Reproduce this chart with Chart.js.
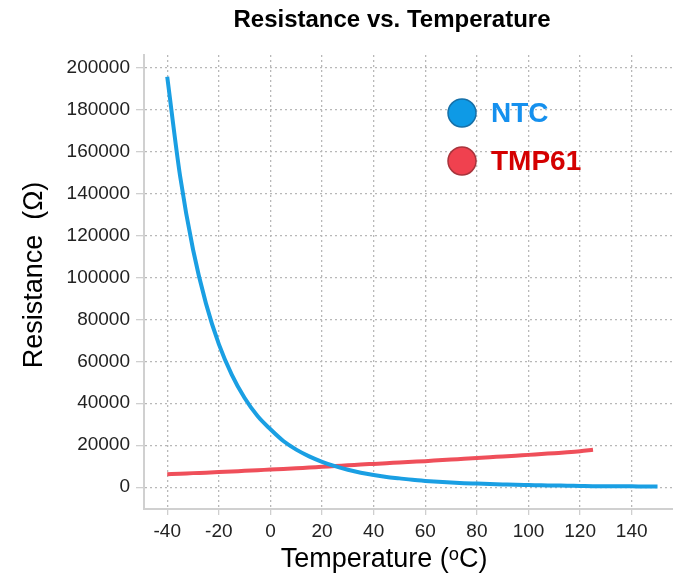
<!DOCTYPE html>
<html lang="en">

<head>
	<meta charset="UTF-8">
	<script src="https://cdn.jsdelivr.net/npm/chart.js@4.4.1/dist/chart.umd.min.js"></script>
	<title>Resistance vs. Temperature</title>
	<style>
		body { margin: 0; background: #fff; }
	</style>
</head>

<body>
	<canvas id="myChart" width="673" height="577"></canvas>
	<script>
		// data (ohms), every 5 degrees C
		let ntcTemps = [-40, -35, -30, -25, -20, -15, -10, -5, 0, 5, 10, 15, 20, 25, 30, 35, 40, 45, 50, 55,
			60, 65, 70, 75, 80, 85, 90, 95, 100, 105, 110, 115, 120, 125, 130, 135, 140, 145, 150];
		let ntcOhms = [195600, 148200, 113300, 87600, 68200, 53700, 42500, 33900, 27600, 22000, 17900, 14700,
			12100, 10000, 8300, 6900, 5800, 4900, 4200, 3500, 3000, 2600, 2200, 1900, 1700, 1500, 1300, 1100,
			1000, 900, 800, 700, 600, 500, 500, 400, 400, 300, 300];
		let tmpTemps = [-40, -35, -30, -25, -20, -15, -10, -5, 0, 5, 10, 15, 20, 25, 30, 35, 40, 45, 50, 55,
			60, 65, 70, 75, 80, 85, 90, 95, 100, 105, 110, 115, 120, 125];
		let tmpOhms = [6200, 6400, 6700, 6900, 7200, 7500, 7800, 8100, 8400, 8700, 9000, 9400, 9700, 10100,
			10400, 10800, 11100, 11400, 11800, 12100, 12400, 12800, 13200, 13500, 13900, 14300, 14600, 15000,
			15400, 15800, 16200, 16600, 17100, 17800];
		let seriesNames = ["NTC", "TMP61"];
		let xTickValues = [-40, -20, 0, 20, 40, 60, 80, 100, 120, 140];
		let yTickValues = [0, 20000, 40000, 60000, 80000, 100000, 120000, 140000, 160000, 180000, 200000];

		let lineColors = ["#1a9fe3", "#ef4f5a"];
		let dotColors = ["#0e9ae6", "#f0414f"];
		let dotEdges = ["#1670a8", "#a8343c"];
		let textColors = ["#1590ee", "#d40000"];
		let font = "Arial, 'Liberation Sans', sans-serif";

		let toPoints = (xs, ys) => xs.map((x, i) => ({ x: x, y: ys[i] }));

		let decor = {
			id: "decor",
			afterDraw: chart => {
				let ctx = chart.ctx;
				let area = chart.chartArea;
				ctx.save();
				ctx.fillStyle = "#000";
				ctx.textAlign = "center";
				ctx.textBaseline = "alphabetic";
				ctx.font = "bold 24px " + font;
				ctx.fillText("Resistance vs. Temperature", 392, 27);

				ctx.font = "27px " + font;
				ctx.fillText("Temperature (\u1D52C)", 384, 567);

				ctx.save();
				ctx.translate(42, 275);
				ctx.rotate(-Math.PI / 2);
				ctx.fillText("Resistance  (\u03A9)", 0, 0);
				ctx.restore();

				// legend inside the plot
				ctx.textAlign = "left";
				ctx.textBaseline = "middle";
				ctx.font = "bold 28px " + font;
				for (let i = 0; i < seriesNames.length; i++) {
					let cx = area.left + 318;
					let cy = area.top + 58 + i * 48;
					ctx.beginPath();
					ctx.arc(cx, cy, 14, 0, Math.PI * 2);
					ctx.fillStyle = dotColors[i];
					ctx.fill();
					ctx.lineWidth = 1.5;
					ctx.strokeStyle = dotEdges[i];
					ctx.stroke();
					ctx.fillStyle = textColors[i];
					ctx.fillText(seriesNames[i], cx + 29, cy + 1);
				}
				ctx.restore();
			}
		};

		new Chart("myChart", {
			type: "line",
			data: {
				datasets: [{
					label: seriesNames[0],
					data: toPoints(ntcTemps, ntcOhms),
					borderColor: lineColors[0],
					borderWidth: 4,
					pointRadius: 0,
					cubicInterpolationMode: "monotone"
				}, {
					label: seriesNames[1],
					data: toPoints(tmpTemps, tmpOhms),
					borderColor: lineColors[1],
					borderWidth: 4,
					pointRadius: 0,
					cubicInterpolationMode: "monotone"
				}]
			},
			options: {
				responsive: false,
				animation: false,
				layout: { padding: { top: 55, right: 0, left: 0, bottom: 0 } },
				plugins: {
					legend: { display: false },
					tooltip: { enabled: false }
				},
				scales: {
					x: {
						type: "linear",
						min: -49,
						max: 156,
						afterBuildTicks: scale => {
							scale.ticks = xTickValues.map(v => ({ value: v }));
						},
						afterFit: scale => {
							scale.height = 68;
						},
						ticks: {
							color: "#222",
							font: { family: font, size: 19 },
							padding: 5,
							maxRotation: 0,
							callback: v => String(v)
						},
						grid: {
							color: "#b8b8b8",
							tickColor: "#cfcfcf",
							tickBorderDash: [],
							tickLength: 6,
							lineWidth: 1.3
						},
						border: { color: "#d0d0d0", width: 2, dash: [2, 3] }
					},
					y: {
						min: -10400,
						max: 206000,
						afterBuildTicks: scale => {
							scale.ticks = yTickValues.map(v => ({ value: v }));
						},
						afterFit: scale => {
							scale.width = 144;
						},
						ticks: {
							color: "#222",
							font: { family: font, size: 19 },
							padding: 6,
							callback: v => String(v)
						},
						grid: {
							color: "#b8b8b8",
							tickColor: "#cfcfcf",
							tickBorderDash: [],
							tickLength: 8,
							lineWidth: 1.3
						},
						border: { color: "#d0d0d0", width: 2, dash: [2, 3] }
					}
				}
			},
			plugins: [decor]
		});
	</script>
</body>

</html>
